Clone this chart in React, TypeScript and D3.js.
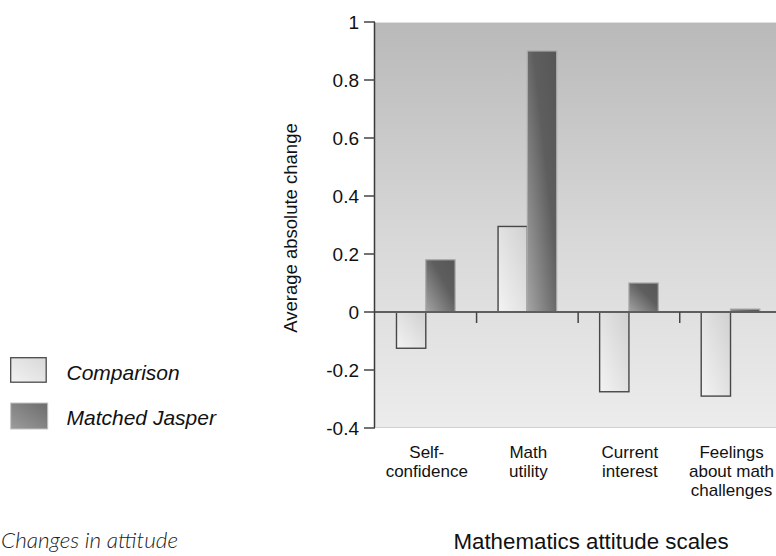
import React from "react";
import * as d3 from "d3";

const categories = [
  ["Self-", "confidence"],
  ["Math", "utility"],
  ["Current", "interest"],
  ["Feelings", "about math", "challenges"],
];
const categoryKeys = ["Self-confidence", "Math utility", "Current interest", "Feelings about math challenges"];
const seriesNames = ["Comparison", "Matched Jasper"];
const comparisonValues = [-0.125, 0.295, -0.275, -0.29];
const jasperValues = [0.18, 0.9, 0.1, 0.01];
const yTicks = [-0.4, -0.2, 0, 0.2, 0.4, 0.6, 0.8, 1];
const yTickLabels = ["-0.4", "-0.2", "0", "0.2", "0.4", "0.6", "0.8", "1"];
const yTitle = "Average absolute change";
const xTitle = "Mathematics attitude scales";
const caption = "Changes in attitude";

const W = 776;
const H = 556;
const plotLeft = 375;
const plotRight = 781.3;
const plotTop = 22;
const plotBottom = 428;

export default function App() {
  const x = d3.scaleBand<string>().domain(categoryKeys).range([plotLeft, plotRight]).padding(0);
  const bw = x.bandwidth();
  const barW = 29.3;
  const x1 = d3.scaleBand<string>().domain(seriesNames).range([bw / 2 - barW, bw / 2 + barW]).padding(0);
  const y = d3.scaleLinear().domain([-0.4, 1]).range([plotBottom, plotTop]);
  const font = "'Liberation Sans', Arial, Helvetica, sans-serif";

  const series = [
    { name: seriesNames[0], values: comparisonValues, fill: "url(#gComp)", stroke: "#474747", sw: 1.4 },
    { name: seriesNames[1], values: jasperValues, fill: "url(#gJas)", stroke: "#a8a8a8", sw: 1.2 },
  ];

  return (
    <svg width={W} height={H} style={{ position: "absolute", left: 0, top: 0 }} fontFamily={font}>
      <defs>
        <linearGradient id="gBg" x1="0" y1="0" x2="0" y2="1">
          <stop offset="0" stopColor="#b9b9b9" />
          <stop offset="0.55" stopColor="#d9d9d9" />
          <stop offset="1" stopColor="#ececec" />
        </linearGradient>
        <linearGradient id="gComp" x1="1" y1="0" x2="0" y2="1">
          <stop offset="0" stopColor="#d0d0d0" />
          <stop offset="1" stopColor="#f3f3f3" />
        </linearGradient>
        <linearGradient id="gJas" x1="1" y1="0" x2="0" y2="1">
          <stop offset="0" stopColor="#565656" />
          <stop offset="0.4" stopColor="#5e5e5e" />
          <stop offset="1" stopColor="#a4a4a4" />
        </linearGradient>
        <linearGradient id="gLegJ" x1="0" y1="1" x2="1" y2="0">
          <stop offset="0" stopColor="#9c9c9c" />
          <stop offset="1" stopColor="#6c6c6c" />
        </linearGradient>
        <linearGradient id="gLegC" x1="0" y1="1" x2="1" y2="0">
          <stop offset="0" stopColor="#f2f2f2" />
          <stop offset="1" stopColor="#d8d8d8" />
        </linearGradient>
      </defs>

      {/* plot background */}
      <rect x={plotLeft} y={plotTop} width={plotRight - plotLeft} height={plotBottom - plotTop} fill="url(#gBg)" />
      <line x1={plotLeft} x2={W} y1={plotTop + 0.5} y2={plotTop + 0.5} stroke="#e2e2e2" strokeWidth={1} />
      <line x1={plotLeft + 1} x2={W} y1={plotBottom - 0.5} y2={plotBottom - 0.5} stroke="#cfcfcf" strokeWidth={1} />

      {/* bars */}
      {series.map((s) =>
        s.values.map((v, i) => {
          const cx = (x(categoryKeys[i]) as number) + (x1(s.name) as number);
          const y0 = y(Math.max(0, v));
          const h = Math.max(1.5, Math.abs(y(v) - y(0)));
          return (
            <rect
              key={s.name + i}
              x={cx}
              y={y0}
              width={x1.bandwidth()}
              height={h}
              fill={s.fill}
              stroke={s.stroke}
              strokeWidth={s.sw}
            />
          );
        })
      )}

      {/* zero line */}
      <line x1={plotLeft} x2={W} y1={y(0)} y2={y(0)} stroke="#5e5e5e" strokeWidth={2} />
      {categoryKeys.map((c, i) => {
        const xb = (x(c) as number) + bw;
        return <line key={"t" + i} x1={xb} x2={xb} y1={y(0)} y2={y(0) + 11} stroke="#444" strokeWidth={1.5} />;
      })}

      {/* y axis */}
      <line x1={plotLeft - 0.5} x2={plotLeft - 0.5} y1={plotTop} y2={plotBottom} stroke="#3a3a3a" strokeWidth={1.5} />
      {yTicks.map((t, i) => (
        <g key={"y" + i}>
          <line x1={plotLeft - 11} x2={plotLeft} y1={y(t)} y2={y(t)} stroke="#444" strokeWidth={1.5} />
          <text x={plotLeft - 16} y={y(t)} dy="0.36em" textAnchor="end" fontSize={19} fill="#111">
            {yTickLabels[i]}
          </text>
        </g>
      ))}
      <text
        transform={`translate(297,228) rotate(-90)`}
        textAnchor="middle"
        fontSize={18.5}
        fill="#111"
      >
        {yTitle}
      </text>

      {/* category labels */}
      {categories.map((lines, i) => {
        const cx = (x(categoryKeys[i]) as number) + bw / 2 + 1;
        return (
          <text key={"c" + i} x={cx} textAnchor="middle" fontSize={17} fill="#111">
            {lines.map((l, j) => (
              <tspan key={j} x={cx} y={458 + j * 19}>
                {l}
              </tspan>
            ))}
          </text>
        );
      })}

      {/* x title */}
      <text x={591} y={549} textAnchor="middle" fontSize={22.3} fill="#111">
        {xTitle}
      </text>

      {/* legend */}
      <rect x={10.7} y={357.7} width={35.5} height={24.5} fill="url(#gLegC)" stroke="#4a4a4a" strokeWidth={1.3} />
      <text x={66.5} y={380} fontSize={21} fontStyle="italic" fill="#111">
        {seriesNames[0]}
      </text>
      <rect x={10.7} y={403} width={37} height={26} fill="url(#gLegJ)" stroke="#c4c4c4" strokeWidth={1} />
      <text x={66.5} y={425} fontSize={21} fontStyle="italic" fill="#111">
        {seriesNames[1]}
      </text>

      {/* caption */}
      <text x={1} y={548} fontSize={22.5} fontStyle="italic" fontWeight={300} fontFamily="Lato, 'Open Sans', sans-serif" fill="#222">
        {caption}
      </text>
    </svg>
  );
}
